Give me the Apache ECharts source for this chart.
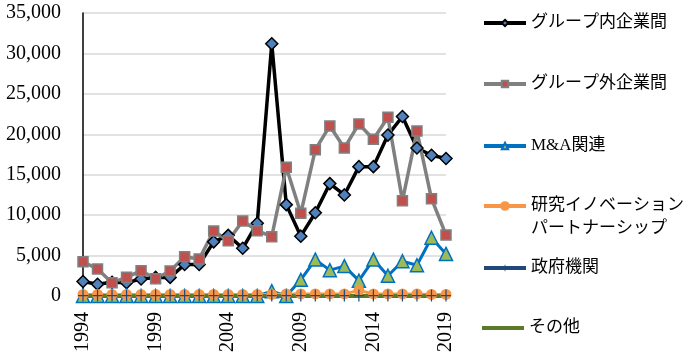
<!DOCTYPE html>
<html><head><meta charset="utf-8">
<script src="https://cdn.jsdelivr.net/npm/echarts@6/dist/echarts.min.js"></script>
<style>html,body{margin:0;padding:0;background:#fff}#c{width:688px;height:362px}</style>
</head><body><div id="c"></div>
<script>
const years = ['1994','1995','1996','1997','1998','1999','2000','2001','2002','2003','2004','2005','2006','2007','2008','2009','2010','2011','2012','2013','2014','2015','2016','2017','2018','2019'];
const seriesNames = ['グループ内企業間','グループ外企業間','M&A関連','研究イノベーションパートナーシップ','政府機関','その他'];
const intraGroup = [1800,1450,1700,1650,2100,2300,2300,3900,3900,6700,7500,5900,9000,31200,11300,7400,10300,13900,12500,16000,16000,19900,22200,18300,17400,17000];
const interGroup = [4240,3340,1650,2310,3130,2140,3090,4860,4580,8040,6840,9280,8080,7340,15920,10230,18100,21030,18300,21280,19380,22100,11790,20400,12040,7550];
const mna = [0,0,0,0,0,0,0,0,0,0,0,0,0,600,0,2000,4500,3200,3700,1900,4500,2500,4300,3800,7200,5200];
const research = [200,200,200,200,200,200,200,200,200,200,200,200,200,200,250,250,250,250,250,700,250,250,250,250,200,200];
const government = [50,50,50,50,50,50,50,50,50,50,50,50,50,50,50,50,50,50,50,50,50,50,50,50,50,50];
const other = [0,0,0,0,0,0,0,0,0,0,0,0,0,0,0,0,0,0,0,0,0,0,0,0,0,0];
const yTicks = {min:0, max:35000, interval:5000};

const FONT = "'Liberation Serif','Times New Roman','Noto Sans CJK JP',serif";
const chart = echarts.init(document.getElementById('c'), null, {renderer:'canvas'});
const legendYs = [18, 79, 141, 201, 263, 323];
const legends = seriesNames.map((n,i)=>{
  const isResearch = i===3;
  const isOther = i===5;
  return {
    data:[isOther ? {name:n, icon:'rect'} : n],
    left:477, top: isResearch ? legendYs[i]-34.5 : legendYs[i]-10,
    itemWidth:42, itemHeight: isOther ? 4 : (isResearch ? 12 : 8), itemGap:0,
    formatter: isResearch ? ' \n研究イノベーション\nパートナーシップ' : '{name}',
    lineStyle:{width:4},
    textStyle: isResearch
      ? {fontFamily:FONT, fontSize:17, color:'#000', lineHeight:23}
      : {fontFamily:FONT, fontSize:17, color:'#000', lineHeight:20},
    selectedMode:false
  };
});
const plus = 'path://M4.4,0h1.2v4.4h4.4v1.2h-4.4v4.4h-1.2v-4.4h-4.4v-1.2h4.4z';
chart.setOption({
  animation:false,
  textStyle:{fontFamily:FONT},
  grid:{left:83, right:242, top:13, bottom:66, containLabel:false},
  legend: legends,
  xAxis:{type:'category', data:years, boundaryGap:false,
    axisLine:{show:true, lineStyle:{color:'#bfbfbf', width:1}},
    axisTick:{show:false},
    axisLabel:{interval:4, rotate:90, margin:16, fontFamily:FONT, fontSize:20, color:'#000'}
  },
  yAxis:{type:'value', min:yTicks.min, max:yTicks.max, interval:yTicks.interval,
    axisLine:{show:true, lineStyle:{color:'#000', width:1.5}},
    axisTick:{show:false},
    splitLine:{lineStyle:{color:'#d9d9d9', width:1.5}},
    axisLabel:{margin:22, fontFamily:FONT, fontSize:20, color:'#000',
      formatter:v=>v.toLocaleString('en-US')}
  },
  series:[
    {name:seriesNames[0], type:'line', data:intraGroup, symbol:'diamond', symbolSize:12, showAllSymbol:true,
      lineStyle:{color:'#000', width:3.5}, itemStyle:{color:'#4f81bd', borderColor:'#000', borderWidth:1.5}},
    {name:seriesNames[1], type:'line', data:interGroup, symbol:'rect', symbolSize:10, showAllSymbol:true,
      lineStyle:{color:'#808080', width:3.5}, itemStyle:{color:'#c0504d', borderColor:'#808080', borderWidth:1.5}},
    {name:seriesNames[2], type:'line', data:mna, symbol:'triangle', symbolSize:13, showAllSymbol:true,
      lineStyle:{color:'#0070c0', width:3}, itemStyle:{color:'#9bbb59', borderColor:'#0070c0', borderWidth:1.5}},
    {name:seriesNames[3], type:'line', data:research, symbol:'circle', symbolSize:11, showAllSymbol:true,
      lineStyle:{color:'#f79646', width:3}, itemStyle:{color:'#f79646', borderColor:'#f79646', borderWidth:0}},
    {name:seriesNames[4], type:'line', data:government, symbol:plus, symbolSize:[10,12], showAllSymbol:true,
      lineStyle:{color:'#1f497d', width:3}, itemStyle:{color:'#1f497d'}},
    {name:seriesNames[5], type:'line', data:other, showSymbol:false, symbol:'none',
      lineStyle:{color:'#5a7a2a', width:4}, itemStyle:{color:'#5a7a2a'}}
  ]
});
</script></body></html>
